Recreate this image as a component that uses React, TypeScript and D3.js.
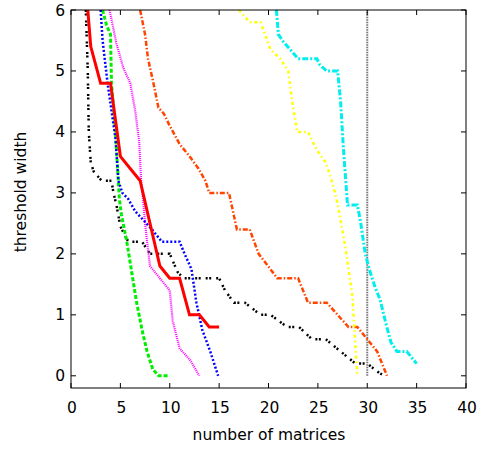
import React from "react";
import * as d3 from "d3";

type Pt = [number, number];

const xTicks = [0, 5, 10, 15, 20, 25, 30, 35, 40];
const yTicks = [0, 1, 2, 3, 4, 5, 6];

const redSeries: Pt[] = [
  [1.7, 6], [2.0, 5.4], [3.0, 4.8], [4.0, 4.8], [5.0, 3.6], [7.0, 3.2], [9.0, 1.8],
  [10.0, 1.6], [11.0, 1.6], [12.0, 1.0], [13.0, 1.0], [14.0, 0.8], [15.0, 0.8],
];
const greenSeries: Pt[] = [
  [3.2, 6], [3.6, 5.75], [4.0, 5.6], [4.1, 4.8], [4.5, 4.0], [4.9, 2.9], [5.1, 2.65],
  [5.65, 2.2], [6.15, 1.7], [6.65, 1.2], [7.2, 0.75], [7.7, 0.4], [8.3, 0.1], [8.9, 0], [10.0, 0],
];
const blueSeries: Pt[] = [
  [3.0, 6], [3.2, 5.5], [3.7, 4.8], [4.5, 3.9], [4.8, 3.2], [5.2, 3.0], [5.8, 2.9],
  [6.5, 2.7], [8.2, 2.4], [9.2, 2.2], [11.0, 2.2], [11.5, 2.0], [12.2, 1.75], [12.7, 1.2],
  [13.3, 0.75], [14.1, 0.4], [14.9, 0],
];
const magentaSeries: Pt[] = [
  [3.9, 6], [4.6, 5.45], [5.3, 5.05], [6.0, 4.8], [6.5, 4.35], [6.9, 3.85], [7.1, 3.2],
  [7.3, 2.9], [7.5, 2.5], [7.85, 2.0], [8.0, 1.8], [9.0, 1.6], [10.0, 1.4], [10.3, 0.9],
  [11.0, 0.45], [12.1, 0.25], [13.0, 0],
];
const orangeSeries: Pt[] = [
  [7.0, 6], [7.5, 5.6], [7.8, 5.2], [8.35, 4.8], [8.85, 4.4], [9.4, 4.3], [10.0, 4.1],
  [11.0, 3.8], [12.0, 3.6], [12.9, 3.4], [13.6, 3.2], [14.0, 3.0], [16.0, 3.0], [16.8, 2.4],
  [18.1, 2.4], [19.0, 2.0], [20.9, 1.6], [23.0, 1.6], [24.0, 1.2], [25.9, 1.2], [28.1, 0.8],
  [29.0, 0.8], [30.0, 0.6], [31.0, 0.4], [32.0, 0],
];
const blackSeries: Pt[] = [
  [1.5, 6], [1.7, 5], [1.8, 4], [2.0, 3.5], [2.3, 3.35], [3.1, 3.2], [4.1, 3.2], [4.3, 3.0],
  [4.6, 2.8], [5.0, 2.45], [5.8, 2.2], [7.2, 2.2], [8.0, 2.0], [10.0, 2.0], [10.8, 1.7],
  [11.4, 1.6], [15.0, 1.6], [15.6, 1.4], [16.5, 1.2], [17.6, 1.2], [19.2, 1.0], [20.2, 1.0],
  [21.9, 0.8], [23.1, 0.8], [24.4, 0.6], [25.8, 0.6], [28.8, 0.2], [30.0, 0.2], [31.2, 0.05], [31.7, 0],
];
const yellowSeries: Pt[] = [
  [17.0, 6], [18.1, 5.8], [19.2, 5.8], [20.2, 5.35], [21.2, 5.2], [22.0, 5.0], [22.4, 4.5],
  [22.9, 4.0], [24.0, 4.0], [24.9, 3.7], [25.8, 3.5], [26.4, 3.2], [26.9, 2.9], [27.8, 2.1],
  [28.5, 1.3], [28.8, 0.5], [29.0, 0],
];
const cyanSeries: Pt[] = [
  [20.8, 6], [21.0, 5.6], [21.4, 5.5], [22.2, 5.35], [23.0, 5.2], [24.9, 5.2], [25.2, 5.1],
  [25.9, 5.0], [27.0, 5.0], [27.3, 4.5], [27.6, 3.7], [28.0, 2.8], [29.0, 2.8], [29.3, 2.55],
  [29.8, 2.0], [30.2, 1.75], [30.8, 1.45], [31.3, 1.25], [31.9, 0.85], [32.4, 0.55],
  [33.0, 0.4], [34.0, 0.4], [35.0, 0.2],
];
const graySeries: Pt[] = [[30, 0], [30, 6]];

const W = 483;
const H = 450;
const L = 71;
const R = 466;
const T = 10;
const B = 388;

const styles = [
  { data: graySeries, color: "#777777", width: 2, dash: "1.5,1" },
  { data: blackSeries, color: "#000000", width: 2.5, dash: "2,1.5,2,5" },
  { data: orangeSeries, color: "#ff4500", width: 2.5, dash: "5,2,1.5,2" },
  { data: yellowSeries, color: "#ffff00", width: 2.5, dash: "3,3,1.5,3" },
  { data: cyanSeries, color: "#00eeee", width: 3, dash: "6,2,2,2" },
  { data: greenSeries, color: "#00ee00", width: 3, dash: "4,2" },
  { data: magentaSeries, color: "#ff00ff", width: 2.2, dash: "1,1" },
  { data: blueSeries, color: "#0000ff", width: 2.5, dash: "2,2" },
  { data: redSeries, color: "#ff0000", width: 3, dash: "" },
];

export default function App() {
  const x = d3.scaleLinear().domain([0, 40]).range([L, R]);
  const y = d3.scaleLinear().domain([-0.2, 6]).range([B, T]);
  const line = d3
    .line<Pt>()
    .x((d) => x(d[0]))
    .y((d) => y(d[1]));
  const font = "'DejaVu Sans', sans-serif";
  const fs = 15.5;
  return (
    <svg
      width={W}
      height={H}
      style={{ position: "absolute", left: 0, top: 0, background: "#fff" }}
      fontFamily={font}
    >
      <defs>
        <clipPath id="plotclip">
          <rect x={L} y={T} width={R - L} height={B - T} />
        </clipPath>
      </defs>
      <rect x={0} y={0} width={W} height={H} fill="#fff" />
      <g clipPath="url(#plotclip)">
        {styles.map((s, i) => (
          <path
            key={i}
            d={line(s.data) || ""}
            fill="none"
            stroke={s.color}
            strokeWidth={s.width}
            strokeDasharray={s.dash || undefined}
            strokeLinejoin="miter"
          />
        ))}
      </g>
      <rect x={L} y={T} width={R - L} height={B - T} fill="none" stroke="#000" strokeWidth={1} />
      {xTicks.map((t) => (
        <g key={"x" + t}>
          <line x1={x(t)} x2={x(t)} y1={B} y2={B - 5} stroke="#000" />
          <line x1={x(t)} x2={x(t)} y1={T} y2={T + 5} stroke="#000" />
          <text x={x(t) + 1} y={412.5} fontSize={fs} textAnchor="middle" fill="#000">
            {t}
          </text>
        </g>
      ))}
      {yTicks.map((t) => (
        <g key={"y" + t}>
          <line x1={L} x2={L + 5} y1={y(t)} y2={y(t)} stroke="#000" />
          <line x1={R} x2={R - 5} y1={y(t)} y2={y(t)} stroke="#000" />
          <text x={65} y={y(t) + 5.5} fontSize={fs} textAnchor="end" fill="#000">
            {t}
          </text>
        </g>
      ))}
      <text x={269} y={440} fontSize={fs} textAnchor="middle" fill="#000">
        number of matrices
      </text>
      <text
        transform="translate(26,192) rotate(-90)"
        fontSize={fs}
        textAnchor="middle"
        fill="#000"
      >
        threshold width
      </text>
    </svg>
  );
}
